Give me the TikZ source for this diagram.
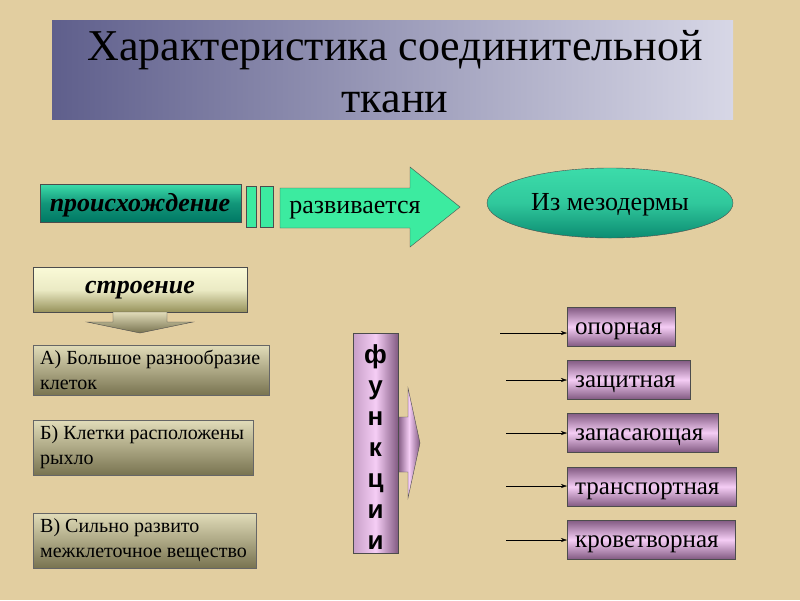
\documentclass[tikz,border=0pt]{standalone}
\usepackage{fontspec}
\setmainfont{Liberation Serif}
\newfontfamily\lsans{Liberation Sans}
\usetikzlibrary{shapes.geometric,arrows.meta}
\definecolor{bg}{RGB}{226,206,160}
\definecolor{titL}{RGB}{95,95,140}
\definecolor{titR}{RGB}{215,215,230}
\definecolor{teal1}{RGB}{0,120,100}
\definecolor{teal2}{RGB}{60,220,170}
\definecolor{mint}{RGB}{60,235,160}
\definecolor{yel1}{RGB}{250,250,215}
\definecolor{yel2}{RGB}{150,145,90}
\definecolor{olv1}{RGB}{225,220,185}
\definecolor{olv2}{RGB}{120,115,80}
\definecolor{pk1}{RGB}{130,90,130}
\definecolor{pk2}{RGB}{245,205,245}
\tikzset{
 fbox/.style={draw=black!70,rectangle,inner sep=0pt,minimum height=39pt,anchor=north west,top color=pk1,bottom color=pk1,middle color=pk2},
 ftxt/.style={anchor=base west,inner sep=0pt,font=\fontsize{25}{27}\selectfont},
 sbox/.style={draw=black!60,rectangle,anchor=north west,inner sep=0pt,top color=olv1,bottom color=olv2},
 farr/.style={-{Stealth[length=6pt,width=4pt]},thin},
 stxt/.style={inner sep=0pt,anchor=west,font=\fontsize{20}{25}\selectfont,align=left}
}
\begin{document}
\begin{tikzpicture}[x=1pt,y=-1pt]
\fill[bg] (0,0) rectangle (800,600);
\useasboundingbox (0,0) rectangle (800,600);
% title
\node[draw=none,rectangle,left color=titL,right color=titR,minimum width=681pt,minimum height=99pt,anchor=north west,inner sep=0pt] (title) at (52,20) {};
\node[align=center,font=\fontsize{44}{52}\selectfont] (titletext) at (395,72) {Характеристика соединительной\\ткани};
% origin
\node[rectangle,draw=black!70,anchor=north west,minimum width=201pt,minimum height=38pt,inner sep=0pt,top color=teal2,bottom color=teal1,middle color=teal1!70!teal2] (orig) at (40,184) {};
\node[font=\fontsize{26}{28}\selectfont\bfseries\itshape] (origt) at (140,205) {происхождение};
\node[rectangle,draw=black!70,fill=mint,anchor=north west,minimum width=10pt,minimum height=41pt,inner sep=0pt] (bar1) at (246,186) {};
\node[rectangle,draw=black!70,fill=mint,anchor=north west,minimum width=13pt,minimum height=41pt,inner sep=0pt] (bar2) at (260,186) {};
\draw[draw=black!70,fill=mint] (280,188) -- (410,188) -- (410,167) -- (460,207) -- (410,247) -- (410,228) -- (280,228) -- cycle;
\node[font=\fontsize{26}{28}\selectfont] (dev) at (355,210) {развивается};
\node[ellipse,draw=black!70,minimum width=246pt,minimum height=70pt,inner sep=0pt,top color=teal2,bottom color=teal1!80!teal2,middle color=teal2!80!teal1] (meso) at (610,203) {};
\node[font=\fontsize{26}{28}\selectfont] (mesotext) at (610,205) {Из мезодермы};
% structure
\node[rectangle,draw=black!70,anchor=north west,minimum width=214pt,minimum height=45pt,inner sep=0pt,top color=yel1,bottom color=yel2,middle color=yel1!85!yel2] (str) at (33,267) {};
\node[font=\fontsize{26}{28}\selectfont\bfseries\itshape] (strt) at (140,290) {строение};
\draw[draw=black!70,top color=olv1,bottom color=olv2] (113,312) -- (167,312) -- (167,322) -- (193,322) -- (140,333) -- (87,322) -- (113,322) -- cycle;
\node[sbox,minimum width=236pt,minimum height=50pt] (a) at (33,345) {};
\node[stxt] (at) at (40,370) {А) Большое разнообразие\\клеток};
\node[sbox,minimum width=220pt,minimum height=55pt] (b) at (33,420) {};
\node[stxt] (bt) at (40,447) {Б) Клетки расположены\\рыхло};
\node[sbox,minimum width=223pt,minimum height=55pt] (v) at (33,513) {};
\node[stxt] (vt) at (40,540) {В) Сильно развито\\межклеточное вещество};
% functions
\draw[draw=black!70,left color=pk1,right color=pk1,middle color=pk2] (398,417) -- (408,417) -- (408,388) -- (420,443) -- (408,498) -- (408,472) -- (398,472) -- cycle;
\node[rectangle,draw=black!70,anchor=north west,minimum width=45pt,minimum height=220pt,inner sep=0pt,left color=pk2!60!pk1,right color=pk1,middle color=pk2] (func) at (353,333) {};
\node[align=center,inner sep=0pt,font=\lsans\bfseries\fontsize{26}{31}\selectfont] (funct) at (375.5,447) {ф\\у\\н\\к\\ц\\и\\и};
\foreach \i/\y/\w/\t in {1/307/108/опорная,2/360/123/защитная,3/413/151/запасающая,4/467/169/транспортная,5/520/168/кроветворная}{
 \node[fbox,minimum width=\w pt] (f\i) at (567,\y) {};
 \node[ftxt] (ft\i) at ([xshift=8pt,yshift=-8pt]f\i.west) {\t};
}
\coordinate (s1) at (500,333);
\coordinate (s2) at (506,380);
\coordinate (s3) at (506,433);
\coordinate (s4) at (506,486);
\coordinate (s5) at (506,540);
\foreach \i in {1,...,5} \draw[farr] (s\i) -- (s\i -| f\i.west);
\end{tikzpicture}
\end{document}
